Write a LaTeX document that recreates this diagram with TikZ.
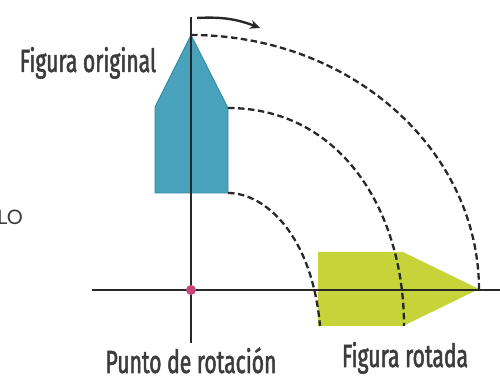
\documentclass[tikz,border=0pt]{standalone}
\usepackage{fontspec}
\usepackage{tikz}
\usetikzlibrary{arrows.meta}
\newfontfamily\labelfont{Fira Sans}[FakeStretch=0.66, FakeBold=1.6]
\newfontfamily\sidefont{Lato}
\definecolor{original}{RGB}{72,162,188}
\definecolor{originaledge}{RGB}{45,135,162}
\definecolor{rotated}{RGB}{198,212,58}
\definecolor{pivot}{RGB}{200,70,120}
\definecolor{axis}{RGB}{40,40,40}
\definecolor{label}{RGB}{60,60,60}

\begin{document}
\begin{tikzpicture}[x=1pt, y=1pt,
    axisline/.style = {draw=axis, line width=2.6pt},
    trace/.style = {draw=axis, line width=2.3pt, dash pattern=on 6.5pt off 3.5pt},
    caption/.style = {font=\labelfont\fontsize{32}{33}\selectfont, text=label, inner sep=0pt, anchor=base}
    ]
    \useasboundingbox (0,0) rectangle (500,379);

    % original figure
    \coordinate (tip) at (191,344);
    \coordinate (shoulderR) at (228,271);
    \coordinate (baseR) at (228,186);
    \coordinate (baseL) at (155,186);
    \coordinate (shoulderL) at (155,272);
    \fill[original, draw=originaledge, line width=0.8pt]
        (tip) -- (shoulderR) -- (baseR) -- (baseL) -- (shoulderL) -- cycle;

    % rotated figure
    \coordinate (rtip) at (479,90);
    \coordinate (rtopR) at (403,127);
    \coordinate (rtopL) at (318,127);
    \coordinate (rbotL) at (318,53);
    \coordinate (rbotR) at (403,53);
    \fill[rotated]
        (rtip) -- (rtopR) -- (rtopL) -- (rbotL) -- (rbotR) -- cycle;

    % axes
    \coordinate (O) at (191,89);
    \coordinate (ytop) at (191,362);
    \coordinate (ybot) at (191,36);
    \coordinate (xleft) at (92,89);
    \coordinate (xright) at (500,89);
    \draw[axisline] (ybot) -- (ytop);
    \draw[axisline] (xleft) -- (xright);

    % traces of the rotation
    \coordinate (midend) at (404,53);
    \coordinate (lowend) at (320,53);
    \draw[trace] (tip) arc[start angle=90, end angle=0, x radius=288, y radius=255];
    \draw[trace] (shoulderR) .. controls (340,271) and (404,169) .. (midend);
    \draw[trace] (baseR) .. controls (265,186) and (312,144) .. (lowend);

    % sense of turn
    \coordinate (turnA) at (197,361);
    \coordinate (turnB) at (260,351);
    \draw[axis, line width=2.4pt, -{Stealth[length=10pt, width=9pt]}] (turnA) to[bend left=12] (turnB);

    \fill[pivot] (O) circle (5);

    % labels
    \node[caption] (orig) at (88,307) {Figura original};
    \node[caption] (pivotlabel) at (191,6) {Punto de rotación};
    \node[caption] (rot) at (405,12) {Figura rotada};
    \node[anchor=base east, font=\sidefont\fontsize{20}{20}\selectfont, text=label, inner sep=0pt] (cut) at (23,154) {LO};
\end{tikzpicture}
\end{document}
